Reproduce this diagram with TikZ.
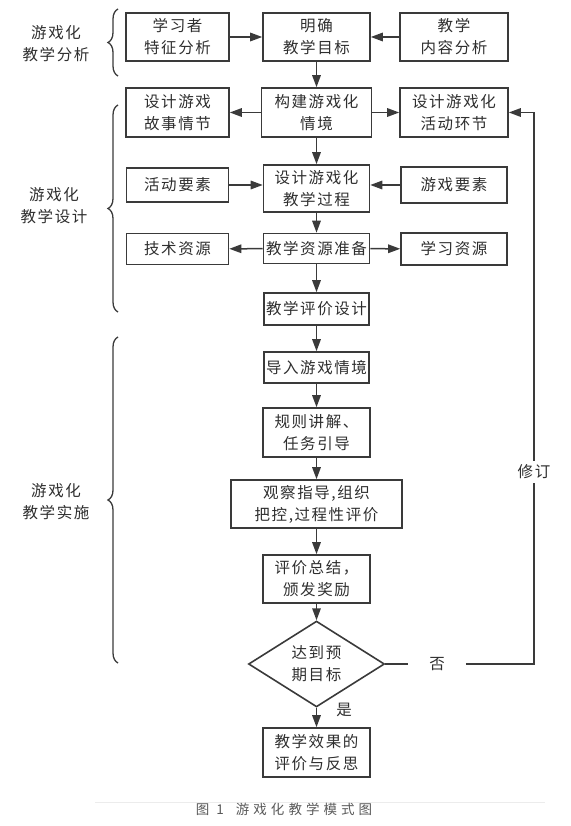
\documentclass[tikz,border=0pt]{standalone}
\usepackage{fontspec}
\setmainfont[LetterSpace=10]{Noto Sans CJK SC}
\newfontfamily\capfont[LetterSpace=30]{Noto Sans CJK SC}
\usetikzlibrary{arrows.meta,shapes.geometric,decorations.pathreplacing}

\definecolor{linegray}{HTML}{3A3A3A}
\definecolor{textgray}{HTML}{2E2E2E}

\tikzset{
  box/.style={draw=linegray,line width=1.6pt,align=center,inner sep=1pt,
    text=textgray,font=\fontsize{15.5}{22}\selectfont},
  tag/.style={text=textgray,align=center,font=\fontsize{15.5}{22}\selectfont},
  flow/.style={draw=linegray,line width=1.5pt},
  tip/.style={-{Triangle[length=12pt,width=8.5pt]}},
  curly/.style={draw=linegray,line width=1.3pt,decorate,
    decoration={brace,amplitude=10pt}}
}

\begin{document}
\begin{tikzpicture}[x=1pt,y=-1pt]
  \useasboundingbox (0,0) rectangle (570,826);

  % Nodes
  \begin{scope}[every node/.style={box}]
    \node[minimum width=103pt,minimum height=48pt] (learner) at (177.5,37) {学习者\\特征分析};
    \node[minimum width=107pt,minimum height=48pt] (goal) at (316.5,37) {明确\\教学目标};
    \node[minimum width=108pt,minimum height=48pt] (content) at (454,37) {教学\\内容分析};

    \node[minimum width=103pt,minimum height=49pt] (story) at (177.5,112.5) {设计游戏\\故事情节};
    \node[minimum width=110pt,minimum height=49pt] (situ) at (316.5,112.5) {构建游戏化\\情境};
    \node[minimum width=108pt,minimum height=49pt] (activ) at (454,112.5) {设计游戏化\\活动环节};

    \node[minimum width=102pt,minimum height=34pt] (actel) at (177.5,185) {活动要素};
    \node[minimum width=106pt,minimum height=47pt] (proc) at (316.5,188.5) {设计游戏化\\教学过程};
    \node[minimum width=106pt,minimum height=36pt] (gameel) at (454,185) {游戏要素};

    \node[minimum width=102pt,minimum height=31pt] (tech) at (177.5,249) {技术资源};
    \node[minimum width=106pt,minimum height=30pt] (prep) at (316.5,248.5) {教学资源准备};
    \node[minimum width=106pt,minimum height=32pt] (learnres) at (454,249) {学习资源};

    \node[minimum width=105pt,minimum height=32pt] (eval) at (316.5,309) {教学评价设计};
    \node[minimum width=105pt,minimum height=31pt] (intro) at (316.5,367.5) {导入游戏情境};
    \node[minimum width=107pt,minimum height=49pt] (rules) at (316.5,432.5) {规则讲解、\\任务引导};
    \node[minimum width=171pt,minimum height=48pt] (observe) at (316.5,504) {观察指导,组织\\把控,过程性评价};
    \node[minimum width=107pt,minimum height=48pt] (summary) at (316.5,579) {评价总结，\\颁发奖励};
    \node[diamond,inner sep=0pt,minimum width=136pt,minimum height=68pt] (judge) at (316.5,664) {达到预\\期目标};
    \node[minimum width=107pt,minimum height=49pt] (result) at (316.5,752.5) {教学效果的\\评价与反思};
  \end{scope}

  % Labels
  \begin{scope}[every node/.style={tag}]
    \node (anal) at (56,44) {游戏化\\教学分析};
    \node (design) at (54,206) {游戏化\\教学设计};
    \node (impl) at (56,502) {游戏化\\教学实施};
    \node (yes) at (344,710) {是};
    \node[inner xsep=21pt] (no) at (437,664) {否};
  \end{scope}

  % Braces
  \draw[curly] (118,76) -- (118,9);
  \draw[curly] (118,312) -- (118,105);
  \draw[curly] (118,663) -- (118,337);

  % Edges
  \begin{scope}[every edge/.style={flow,tip}]
    \path (learner) edge (goal);
    \path (content) edge (goal);
    \path (goal) edge (situ);
    \path (situ) edge (story);
    \path (situ) edge (activ);
    \path (situ) edge (proc);
    \path (actel) edge (actel -| proc.west);
    \path (gameel) edge (gameel -| proc.east);
    \path (proc) edge (prep);
    \path (prep) edge (tech);
    \path (prep) edge (learnres);
    \path (prep) edge (eval);
    \path (eval) edge (intro);
    \path (intro) edge (rules);
    \path (rules) edge (observe);
    \path (observe) edge (summary);
    \path (summary) edge (judge);
    \path (judge) edge (result);
  \end{scope}

  % Feedback loop
  \coordinate (turn) at (534,664);
  \draw[flow] (judge.east) -- (no.west);
  \draw[flow,tip] (no.east) -- (turn) |- (activ.east);
  \node[tag,fill=white,inner xsep=1pt,inner ysep=4pt] (revise) at (534,472) {修订};

  % Caption
  \draw[gray!15,line width=0.8pt] (95,802) -- (545,802);
  \node[text=black!65,font=\capfont\fontsize{13.5}{15}\selectfont] (cap) at (284,809) {图 1\hspace{12pt}游戏化教学模式图};
\end{tikzpicture}
\end{document}
